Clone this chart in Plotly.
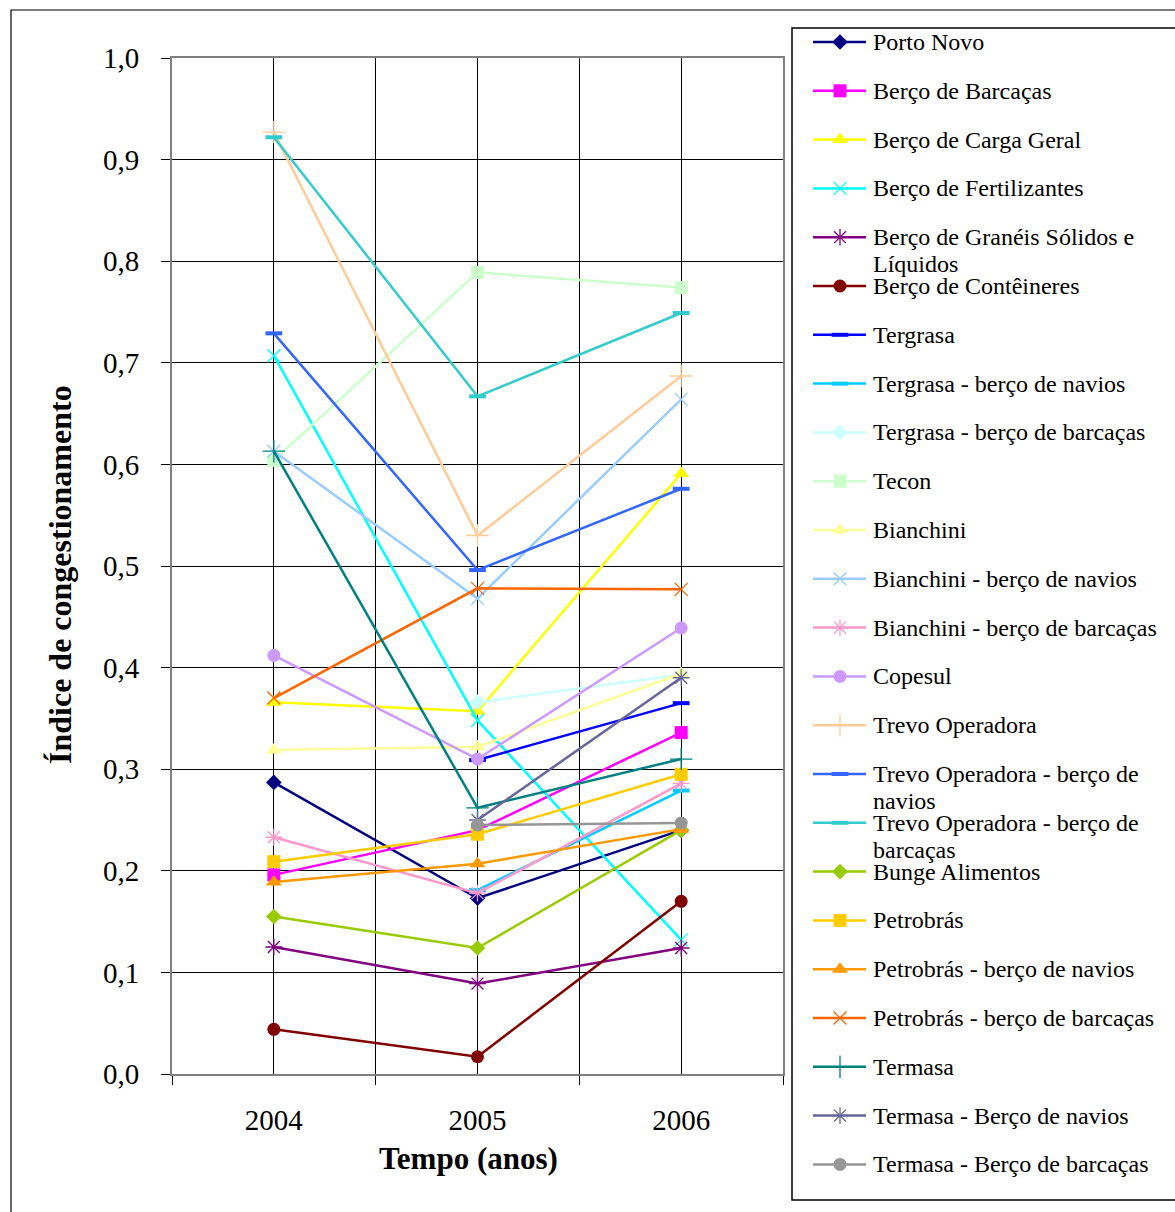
import plotly.graph_objects as go

# Congestion index per terminal / berth, 2004-2006
years = [2004, 2005, 2006]

names = [
    "Porto Novo", "Berço de Barcaças", "Berço de Carga Geral", "Berço de Fertilizantes",
    "Berço de Granéis Sólidos e Líquidos", "Berço de Contêineres", "Tergrasa",
    "Tergrasa - berço de navios", "Tergrasa - berço de barcaças", "Tecon", "Bianchini",
    "Bianchini - berço de navios", "Bianchini - berço de barcaças", "Copesul",
    "Trevo Operadora", "Trevo Operadora - berço de navios",
    "Trevo Operadora - berço de barcaças", "Bunge Alimentos", "Petrobrás",
    "Petrobrás - berço de navios", "Petrobrás - berço de barcaças", "Termasa",
    "Termasa - Berço de navios", "Termasa - Berço de barcaças",
]

# legend text, split where the legend box wraps it
legend_line1 = [
    "Porto Novo", "Berço de Barcaças", "Berço de Carga Geral", "Berço de Fertilizantes",
    "Berço de Granéis Sólidos e", "Berço de Contêineres", "Tergrasa",
    "Tergrasa - berço de navios", "Tergrasa - berço de barcaças", "Tecon", "Bianchini",
    "Bianchini - berço de navios", "Bianchini - berço de barcaças", "Copesul",
    "Trevo Operadora", "Trevo Operadora - berço de",
    "Trevo Operadora - berço de", "Bunge Alimentos", "Petrobrás",
    "Petrobrás - berço de navios", "Petrobrás - berço de barcaças", "Termasa",
    "Termasa - Berço de navios", "Termasa - Berço de barcaças",
]
legend_line2 = {4: "Líquidos", 15: "navios", 16: "barcaças"}

v2004 = [0.287, 0.196, 0.366, 0.707, 0.125, 0.044, None, None, None, 0.604, 0.319, 0.613,
         0.233, 0.412, 0.927, 0.729, 0.922, 0.155, 0.209, 0.189, 0.370, 0.613, None, None]
v2005 = [0.173, 0.240, 0.357, 0.348, 0.089, 0.017, 0.309, 0.181, 0.366, 0.789, 0.322, 0.468,
         0.178, 0.310, 0.530, 0.496, 0.667, 0.124, 0.236, 0.207, 0.478, 0.262, 0.250, 0.245]
v2006 = [0.240, 0.336, 0.591, 0.132, 0.124, 0.170, 0.365, 0.279, 0.393, 0.774, 0.394, 0.664,
         0.286, 0.439, 0.687, 0.576, 0.749, 0.240, 0.295, 0.241, 0.477, 0.310, 0.390, 0.247]

colors = [
    "#000080", "#FF00FF", "#FFFF00", "#00FFFF", "#800080", "#800000", "#0000FF", "#00CCFF",
    "#CCFFFF", "#CCFFCC", "#FFFF99", "#99CCFF", "#FF99CC", "#CC99FF", "#FFCC99", "#3366FF",
    "#33CCCC", "#99CC00", "#FFCC00", "#FF9900", "#FF6600", "#008080", "#666699", "#969696",
]

marker_kinds = [
    "diamond", "square", "triangle", "x", "star", "circle", "dash", "dash",
    "diamond", "square", "triangle", "x", "star", "circle", "plus", "dash",
    "dash", "diamond", "square", "triangle", "x", "plus", "star", "circle",
]

MARKERS = {
    "diamond": dict(symbol="diamond", size=12, line=dict(width=0)),
    "square": dict(symbol="square", size=13, line=dict(width=0)),
    "triangle": dict(symbol="triangle-up", size=14, line=dict(width=0)),
    "circle": dict(symbol="circle", size=13, line=dict(width=0)),
    "x": dict(symbol="x-thin-open", size=13, line=dict(width=1.3)),
    "star": dict(symbol="asterisk-open", size=14, line=dict(width=1.3)),
    "plus": dict(symbol="cross-thin-open", size=16, line=dict(width=1.3)),
    "dash": dict(symbol="line-ew-open", size=12, line=dict(width=4)),
}


def marker_for(i):
    m = dict(MARKERS[marker_kinds[i]])
    m["color"] = colors[i]
    m["line"] = dict(m["line"], color=colors[i])
    return m


SERIF = "Liberation Serif, Times New Roman, serif"
W, H = 1175, 1212
# plot area in pixels
PX0, PX1, PY0, PY1 = 172, 783, 58, 1074

fig = go.Figure()

for i, name in enumerate(names):
    fig.add_trace(go.Scatter(
        x=years, y=[v2004[i], v2005[i], v2006[i]], name=name,
        mode="lines+markers", line=dict(color=colors[i], width=2.5),
        marker=marker_for(i), connectgaps=False, showlegend=False, cliponaxis=False,
    ))

# hand-drawn legend on a pixel-space overlay axis
LEG_X0, LEG_XM, LEG_X1, LEG_TX = 813, 840, 866, 871
ROW0, ROW_STEP, LINE2 = 42, 48.8, 27
LEG_FONT = dict(family=SERIF, size=24, color="black")
for i, name in enumerate(names):
    yy = ROW0 + ROW_STEP * i
    fig.add_trace(go.Scatter(
        x=[LEG_X0, LEG_X1], y=[yy, yy], mode="lines", xaxis="x2", yaxis="y2",
        line=dict(color=colors[i], width=2.5), showlegend=False, hoverinfo="skip",
    ))
    fig.add_trace(go.Scatter(
        x=[LEG_XM], y=[yy], mode="markers", xaxis="x2", yaxis="y2",
        marker=marker_for(i), showlegend=False, hoverinfo="skip",
    ))
    fig.add_annotation(
        x=LEG_TX, y=yy, xref="x2", yref="y2", text=legend_line1[i],
        showarrow=False, xanchor="left", yanchor="middle", align="left", font=LEG_FONT,
    )
    if i in legend_line2:
        fig.add_annotation(
            x=LEG_TX, y=yy + LINE2, xref="x2", yref="y2", text=legend_line2[i],
            showarrow=False, xanchor="left", yanchor="middle", align="left", font=LEG_FONT,
        )

# outer frame and legend frame
fig.add_shape(type="rect", xref="x2", yref="y2", x0=11, x1=W + 10, y0=10, y1=H + 10,
              line=dict(color="black", width=1.2), layer="below")
fig.add_shape(type="rect", xref="x2", yref="y2", x0=792, x1=W + 10, y0=28, y1=1200,
              line=dict(color="black", width=1.5), layer="below")

# axis titles
fig.add_annotation(x=60, y=575, xref="x2", yref="y2", text="<b>Índice de congestionamento</b>",
                   textangle=-90, showarrow=False,
                   font=dict(family=SERIF, size=32, color="black"))
fig.add_annotation(x=468, y=1158, xref="x2", yref="y2", text="<b>Tempo (anos)</b>",
                   showarrow=False, font=dict(family=SERIF, size=31, color="black"))

fig.update_layout(
    width=W, height=H, margin=dict(l=0, r=0, t=0, b=0),
    paper_bgcolor="white", plot_bgcolor="rgba(0,0,0,0)", separators=",.",
    showlegend=False,
    xaxis=dict(
        domain=[PX0 / W, PX1 / W], range=[2003.5, 2006.5],
        tickvals=years, ticktext=[str(y) for y in years], ticks="",
        showgrid=True, gridcolor="black", gridwidth=1,
        showline=True, linecolor="#808080", linewidth=2, mirror=True,
        tickfont=dict(family=SERIF, size=29, color="black"), ticklabelstandoff=19,
        minor=dict(tickvals=[2003.5, 2004.5, 2005.5, 2006.5], ticks="outside", ticklen=9,
                   tickcolor="black", showgrid=True, gridcolor="black", gridwidth=1),
        zeroline=False, fixedrange=True, automargin=False,
    ),
    yaxis=dict(
        domain=[1 - PY1 / H, 1 - PY0 / H], range=[0, 1], dtick=0.1, tickformat=".1f",
        ticks="outside", ticklen=9, tickcolor="black",
        showgrid=True, gridcolor="black", gridwidth=1,
        showline=True, linecolor="#808080", linewidth=2, mirror=True,
        tickfont=dict(family=SERIF, size=29, color="black"), ticklabelstandoff=16,
        zeroline=False, fixedrange=True, automargin=False,
    ),
    xaxis2=dict(domain=[0, 1], range=[0, W], visible=False, fixedrange=True, anchor="y2"),
    yaxis2=dict(domain=[0, 1], range=[H, 0], visible=False, fixedrange=True, anchor="x2"),
)

fig.write_html("out.html")
